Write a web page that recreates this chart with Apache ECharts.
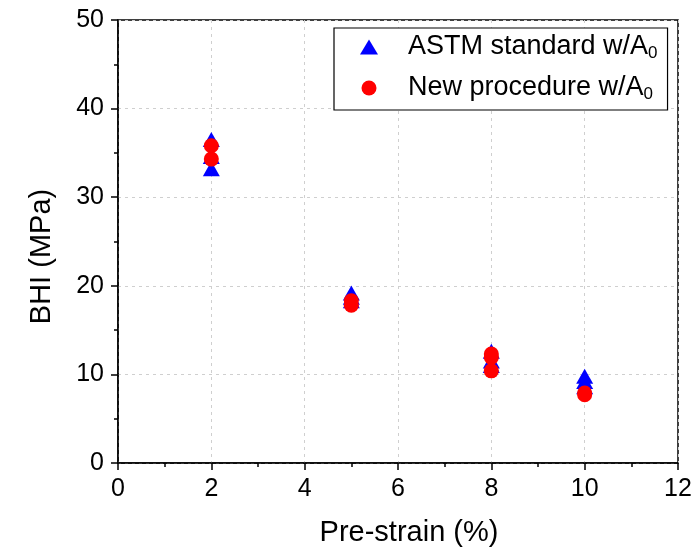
<!DOCTYPE html>
<html>
<head>
<meta charset="utf-8">
<script src="https://cdn.jsdelivr.net/npm/echarts@6/dist/echarts.min.js"></script>
<style>
  html, body { margin: 0; padding: 0; background: #fff; }
  #chart { width: 697px; height: 555px; }
</style>
</head>
<body>
<div id="chart"></div>
<script>
// Bake-hardening increment (BHI) versus pre-strain, two evaluation methods
const xTicks = [0, 2, 4, 6, 8, 10, 12];
const yTicks = [0, 10, 20, 30, 40, 50];

// ASTM standard evaluation with initial cross-section A0
const astmStrain = [2, 2, 2, 5, 5, 5, 8, 8, 8, 10, 10, 10];
const astmBHI    = [36.5, 34.6, 33.2, 19.2, 18.7, 18.3, 12.6, 11.5, 11.0, 9.8, 9.2, 8.6];

// New procedure evaluation with initial cross-section A0
const newStrain = [2, 2, 5, 5, 8, 8, 8, 10, 10];
const newBHI    = [35.8, 34.3, 18.3, 17.8, 12.3, 11.9, 10.4, 7.9, 7.7];

const seriesNames = ['ASTM standard w/A{sub|0}', 'New procedure w/A{sub|0}'];

const pairs = (xs, ys) => xs.map((x, i) => [x, ys[i]]);

const font = '"Liberation Sans", Arial, sans-serif';

const axisCommon = {
  axisLine: { show: true, onZero: false, lineStyle: { color: '#000', width: 1.5 } },
  axisTick: { show: true, inside: false, length: 7, lineStyle: { color: '#000', width: 1.5 } },
  minorTick: { show: true, splitNumber: 2, length: 4, lineStyle: { color: '#000', width: 1.5 } },
  splitLine: { show: true, lineStyle: { color: '#cfcfcf', type: [3, 4], width: 1 } },
  axisLabel: { color: '#000', fontSize: 25, fontFamily: font }
};

const chart = echarts.init(document.getElementById('chart'), null, { renderer: 'canvas' });

chart.setOption({
  animation: false,
  backgroundColor: '#fff',
  grid: {
    left: 118, right: 19, top: 20, bottom: 92,
    show: true, borderColor: '#000', borderWidth: 1.5, backgroundColor: 'transparent'
  },
  legend: {
    orient: 'vertical',
    left: 334, top: 28,
    padding: [4, 10, 7, 26],
    itemWidth: 18, itemHeight: 15, itemGap: 11,
    borderColor: '#000', borderWidth: 1.2,
    backgroundColor: '#fff',
    textStyle: {
      color: '#000', fontSize: 27, fontFamily: font, lineHeight: 30,
      padding: [0, 0, 0, 25],
      rich: { sub: { fontSize: 17, fontFamily: font, lineHeight: 17, verticalAlign: 'bottom', color: '#000' } }
    },
    data: [
      { name: seriesNames[0], icon: 'triangle', itemStyle: { color: '#0000ff' } },
      { name: seriesNames[1], icon: 'circle', itemStyle: { color: '#ff0000' } }
    ]
  },
  xAxis: Object.assign({}, axisCommon, {
    type: 'value', min: xTicks[0], max: xTicks[xTicks.length - 1], interval: 2,
    name: 'Pre-strain (%)', nameLocation: 'middle', nameGap: 55,
    nameTextStyle: { color: '#000', fontSize: 29, fontFamily: font, padding: [0, 0, 0, 22] },
    axisLabel: Object.assign({}, axisCommon.axisLabel, { margin: 14 })
  }),
  yAxis: Object.assign({}, axisCommon, {
    type: 'value', min: yTicks[0], max: yTicks[yTicks.length - 1], interval: 10,
    name: 'BHI (MPa)', nameLocation: 'middle', nameGap: 62,
    nameTextStyle: { color: '#000', fontSize: 29, fontFamily: font, padding: [0, 30, 0, 0] },
    axisLabel: Object.assign({}, axisCommon.axisLabel, { margin: 14 })
  }),
  series: [
    {
      name: seriesNames[0], type: 'scatter', symbol: 'triangle', symbolSize: [17, 15],
      itemStyle: { color: '#0000ff', opacity: 1 },
      data: pairs(astmStrain, astmBHI), z: 2
    },
    {
      name: seriesNames[1], type: 'scatter', symbol: 'circle', symbolSize: 15,
      itemStyle: { color: '#ff0000', opacity: 1 },
      data: pairs(newStrain, newBHI), z: 3
    }
  ]
});
</script>
</body>
</html>
